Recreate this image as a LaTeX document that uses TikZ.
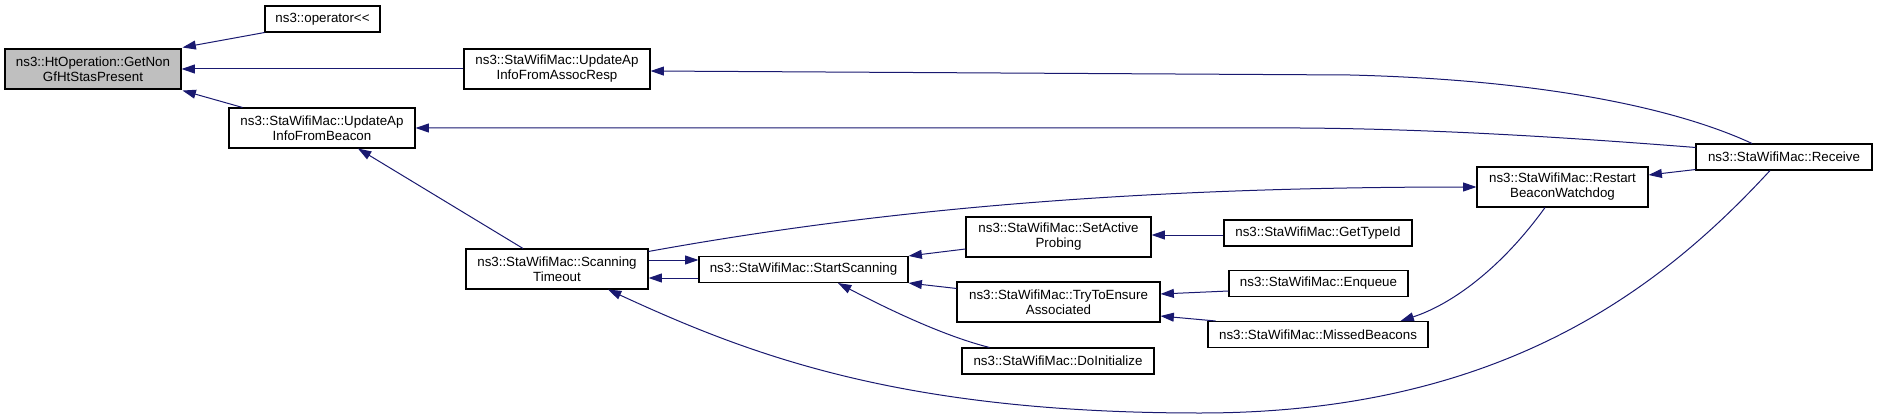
\documentclass[tikz,border=0pt]{standalone}
\usepackage{fontspec}
\setmainfont{Liberation Sans}
\usetikzlibrary{arrows.meta,calc}
\definecolor{edgeblue}{RGB}{25,25,112}
\definecolor{rootgray}{RGB}{191,191,191}
\begin{document}
\begin{tikzpicture}[x=0.75pt,y=-0.75pt,
  fn/.style={draw=black, line width=0.8pt, fill=white, inner sep=0pt, align=center,
    font=\fontsize{10}{11.25}\selectfont},
  one/.style={fn, minimum height=19.5pt},
  two/.style={fn, minimum height=30pt},
  call/.style={draw=edgeblue, line width=0.75pt, -{Triangle[length=10pt,width=6.7pt]}}
]
\useasboundingbox (0,0) rectangle (1877,417);

% nodes
\node[two, fill=rootgray, minimum width=132pt] (root) at (93,69) {ns3::HtOperation::GetNon\\GfHtStasPresent};
\node[one, minimum width=86.25pt] (op) at (322.5,19) {ns3::operator<\kern0pt<};
\node[two, minimum width=139.5pt] (assoc) at (557,69) {ns3::StaWifiMac::UpdateAp\\InfoFromAssocResp};
\node[two, minimum width=139.5pt] (beacon) at (322,128) {ns3::StaWifiMac::UpdateAp\\InfoFromBeacon};
\node[two, minimum width=136.5pt] (scan) at (557,269) {ns3::StaWifiMac::Scanning\\Timeout};
\node[one, minimum width=156.75pt] (start) at (803.5,269.5) {ns3::StaWifiMac::StartScanning};
\node[two, minimum width=138.75pt] (setact) at (1058.5,237) {ns3::StaWifiMac::SetActive\\Probing};
\node[two, minimum width=152.25pt] (try) at (1058.5,302) {ns3::StaWifiMac::TryToEnsure\\Associated};
\node[one, minimum width=144pt] (doinit) at (1058,361) {ns3::StaWifiMac::DoInitialize};
\node[one, minimum width=141pt] (gettype) at (1318,233) {ns3::StaWifiMac::GetTypeId};
\node[one, minimum width=134.25pt] (enq) at (1318.5,283.5) {ns3::StaWifiMac::Enqueue};
\node[one, minimum width=165pt] (missed) at (1318,334.5) {ns3::StaWifiMac::MissedBeacons};
\node[two, minimum width=128.25pt] (restart) at (1562.5,187) {ns3::StaWifiMac::Restart\\BeaconWatchdog};
\node[one, minimum width=132pt] (receive) at (1784,157) {ns3::StaWifiMac::Receive};

% edges into root
\draw[call] (op.south west) -- ($(root.north east)+(1,-1)$);
\draw[call] (assoc.west) -- (root.east);
\draw[call] ($(beacon.north west)+(14,0)$) -- ($(root.south east)+(1,1)$);

% edges from Receive
\draw[call] ($(receive.north)+(-32,0)$) .. controls (1680,110) and (1550,80) .. (1350,75) -- ($(assoc.east)+(0,2)$);
\draw[call] ($(receive.north west)+(0,4)$) .. controls (1600,140) and (1450,129) .. (1300,128) -- (beacon.east);
\draw[call] ($(receive.south west)+(0,-1)$) -- ($(restart.east)+(0,-12)$);
\draw[call] ($(receive.south)+(-14,0)$) .. controls (1660,290) and (1500,413) .. (1200,413)
  .. controls (900,413) and (750,355) .. ($(scan.south)+(51,0)$);

% Scanning timeout
\draw[call] ($(scan.north)+(-34,0)$) -- ($(beacon.south)+(36,0)$);
\draw[call] ($(scan.north east)+(0,3)$) .. controls (850,215) and (1100,187) .. (restart.west);
\draw[call] ($(scan.east)+(0,-9)$) -- ($(start.west)+(0,-9.5)$);
\draw[call] ($(start.west)+(0,8.5)$) -- ($(scan.east)+(0,9)$);

% into StartScanning
\draw[call] ($(setact.west)+(0,12)$) -- (start.north east);
\draw[call] ($(try.north west)+(0,7)$) -- (start.south east);
\draw[call] ($(doinit.north west)+(28,0)$) .. controls (940,335) and (880,305) .. ($(start.south)+(34.5,0)$);

% right columns
\draw[call] ($(gettype.west)+(0,2)$) -- ($(setact.east)+(0,-2)$);
\draw[call] ($(enq.west)+(0,7.5)$) -- ($(try.east)+(0,-8)$);
\draw[call] ($(missed.north west)+(8,0)$) -- ($(try.east)+(0,14)$);
\draw[call] ($(restart.south)+(-17.5,0)$) .. controls (1500,270) and (1450,305) .. ($(missed.north east)+(-28,0)$);
\end{tikzpicture}
\end{document}
